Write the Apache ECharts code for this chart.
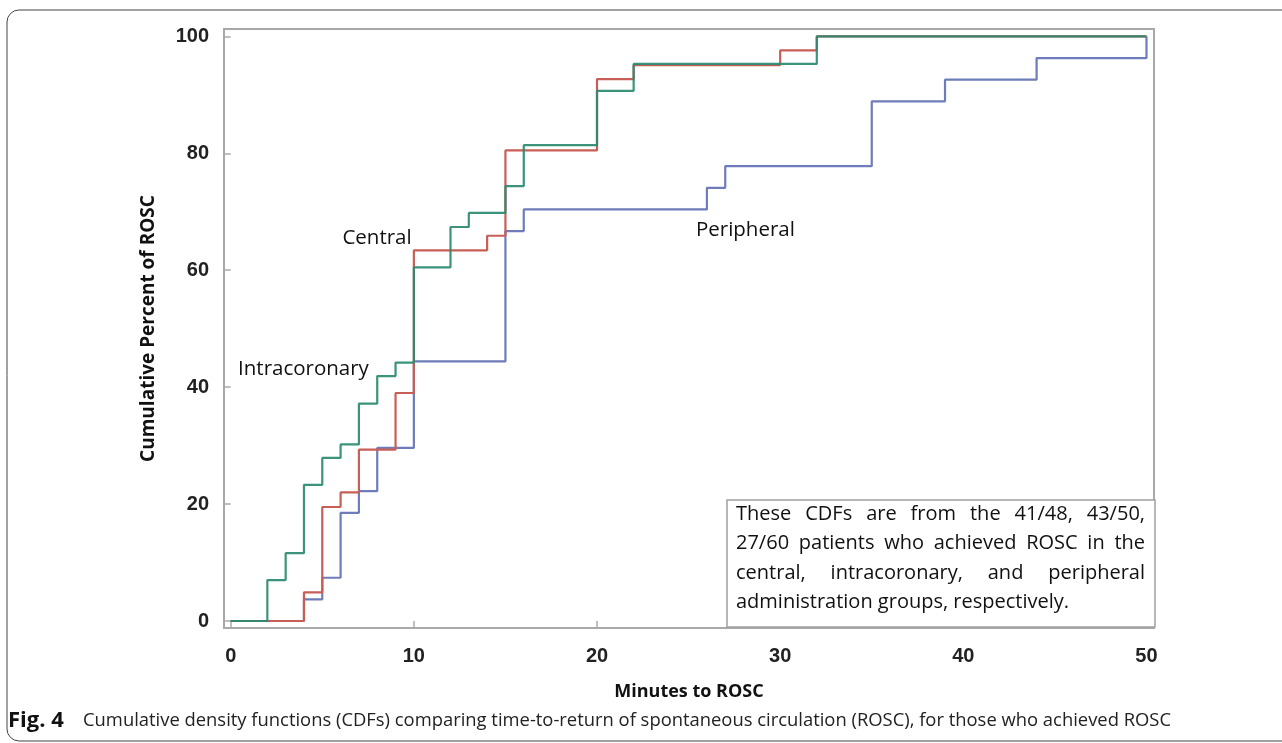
<!DOCTYPE html>
<html><head><meta charset="utf-8">
<script src="https://cdn.jsdelivr.net/npm/echarts@6/dist/echarts.min.js"></script>
<style>html,body{margin:0;padding:0;background:#fff}#c{width:1282px;height:743px}</style>
</head><body><div id="c"></div>
<script>
// ---- data (minutes to ROSC, cumulative percent) ----
const centralX = [0, 4, 5, 6, 7, 9, 10, 14, 15, 20, 22, 30, 32, 50];
const centralY = [0, 4.9, 19.5, 22.0, 29.3, 39.0, 63.4, 65.9, 80.5, 92.7, 95.1, 97.6, 100, 100];
const intraX = [0, 2, 3, 4, 5, 6, 7, 8, 9, 10, 12, 13, 15, 16, 20, 22, 32, 50];
const intraY = [0, 7.0, 11.6, 23.3, 27.9, 30.2, 37.2, 41.9, 44.2, 60.5, 67.4, 69.8, 74.4, 81.4, 90.7, 95.3, 100, 100];
const periX = [0, 4, 5, 6, 7, 8, 10, 15, 16, 26, 27, 35, 39, 44, 50];
const periY = [0, 3.7, 7.4, 18.5, 22.2, 29.6, 44.4, 66.7, 70.4, 74.1, 77.8, 88.9, 92.6, 96.3, 100];
const xTicks = [0, 10, 20, 30, 40, 50];
const yTicks = [0, 20, 40, 60, 80, 100];
const xTitle = "Minutes to ROSC";
const yTitle = "Cumulative Percent of ROSC";
const groupLabels = [
  {text: "Central", x: 6.1, y: 65.5},
  {text: "Intracoronary", x: 0.4, y: 43.1},
  {text: "Peripheral", x: 25.4, y: 66.9}
];
const noteLines = [
  "These CDFs are from the 41/48, 43/50,",
  "27/60 patients who achieved ROSC in the",
  "central, intracoronary, and peripheral",
  "administration groups, respectively."
];
const captionBold = "Fig. 4";
const captionText = "Cumulative density functions (CDFs) comparing time-to-return of spontaneous circulation (ROSC), for those who achieved ROSC";

const zip = (xs, ys) => xs.map((x, i) => [x, ys[i]]);

const chart = echarts.init(document.getElementById('c'), null, {renderer: 'canvas'});
const labelFont = '"Liberation Sans", Arial, sans-serif';
const textFont = '"Open Sans", sans-serif';

const option = {
  animation: false,
  backgroundColor: '#fff',
  grid: {left: 224, right: 128, top: 29, bottom: 115, show: true, borderColor: '#a8a8a8', borderWidth: 2, backgroundColor: 'transparent'},
  xAxis: {
    type: 'value', min: -0.366, max: 50.41,
    axisLine: {show: false},
    splitLine: {show: false},
    axisTick: {show: true, customValues: xTicks, length: 6, lineStyle: {color: '#aaa', width: 1.5}},
    axisLabel: {customValues: xTicks, fontFamily: labelFont, fontWeight: 'bold', fontSize: 20, color: '#222', margin: 18},
    name: xTitle, nameLocation: 'middle', nameGap: 55,
    nameTextStyle: {fontFamily: textFont, fontWeight: 'bold', fontSize: 18, color: '#111'}
  },
  yAxis: {
    type: 'value', min: -1.2, max: 101.27,
    axisLine: {show: false},
    splitLine: {show: false},
    axisTick: {show: true, customValues: yTicks, length: 7, lineStyle: {color: '#aaa', width: 1.5}},
    axisLabel: {customValues: yTicks, fontFamily: labelFont, fontWeight: 'bold', fontSize: 20, color: '#222', margin: 15},
    name: yTitle, nameLocation: 'middle', nameGap: 66,
    nameTextStyle: {fontFamily: textFont, fontWeight: 'bold', fontSize: 19, color: '#111'}
  },
  series: [
    {name: 'Peripheral', type: 'line', step: 'end', showSymbol: false, data: zip(periX, periY),
     lineStyle: {color: '#6f7cbb', width: 2.2}, itemStyle: {color: '#6f7cbb'}, z: 2},
    {name: 'Central', type: 'line', step: 'end', showSymbol: false, data: zip(centralX, centralY),
     lineStyle: {color: '#c75f57', width: 2.2}, itemStyle: {color: '#c75f57'}, z: 3},
    {name: 'Intracoronary', type: 'line', step: 'end', showSymbol: false, data: zip(intraX, intraY),
     lineStyle: {color: '#2a8a70', width: 2.2, opacity: 0.92}, itemStyle: {color: '#2a8a70'}, z: 4}
  ]
};
chart.setOption(option);

// ---- annotations / note box / caption ----
const cv = document.createElement('canvas');
const ctx = cv.getContext('2d');
function w(text, font) { ctx.font = font; return ctx.measureText(text).width; }

const elements = [];
groupLabels.forEach(l => {
  const p = chart.convertToPixel({gridIndex: 0}, [l.x, l.y]);
  elements.push({type: 'text', x: p[0], y: p[1], z: 10,
    style: {text: l.text, fontFamily: textFont, fontSize: 20.5, fill: '#111', align: 'left', verticalAlign: 'middle'}});
});

// note box
const boxL = 727, boxT = 500, boxR = 1155, boxB = 627;
elements.push({type: 'rect', shape: {x: boxL, y: boxT, width: boxR - boxL, height: boxB - boxT}, z: 8,
  style: {fill: '#fff', stroke: '#a0a0a0', lineWidth: 1.5}});
const innerL = 736, innerW = 409;
let fs = 20;
for (; fs > 12; fs -= 0.25) {
  const f = fs + 'px ' + textFont;
  if (Math.max(...noteLines.map(t => w(t, f))) <= innerW) break;
}
const noteFont = fs + 'px ' + textFont;
noteLines.forEach((line, i) => {
  const cy = 514 + i * 29.5;
  const words = line.split(' ');
  if (i === noteLines.length - 1) {
    elements.push({type: 'text', x: innerL, y: cy, z: 9,
      style: {text: line, fontFamily: textFont, fontSize: fs, fill: '#111', align: 'left', verticalAlign: 'middle'}});
    return;
  }
  const widths = words.map(t => w(t, noteFont));
  const gap = (innerW - widths.reduce((a, b) => a + b, 0)) / (words.length - 1);
  let x = innerL;
  words.forEach((t, k) => {
    elements.push({type: 'text', x: x, y: cy, z: 9,
      style: {text: t, fontFamily: textFont, fontSize: fs, fill: '#111', align: 'left', verticalAlign: 'middle'}});
    x += widths[k] + gap;
  });
});

// outer frame
elements.push({type: 'rect', shape: {x: 7, y: 10, width: 1400, height: 731, r: 12}, z: 1, silent: true,
  style: {fill: 'none', stroke: '#444', lineWidth: 1}});
// caption
elements.push({type: 'text', x: 8, y: 721, z: 10,
  style: {text: captionBold, fontFamily: textFont, fontWeight: 'bold', fontSize: 22, fill: '#111', align: 'left', verticalAlign: 'middle'}});
elements.push({type: 'text', x: 83, y: 721, z: 10,
  style: {text: captionText, fontFamily: textFont, fontSize: 18.4, fill: '#222', align: 'left', verticalAlign: 'middle'}});

chart.setOption({graphic: {elements: elements}});
</script>
</body></html>
